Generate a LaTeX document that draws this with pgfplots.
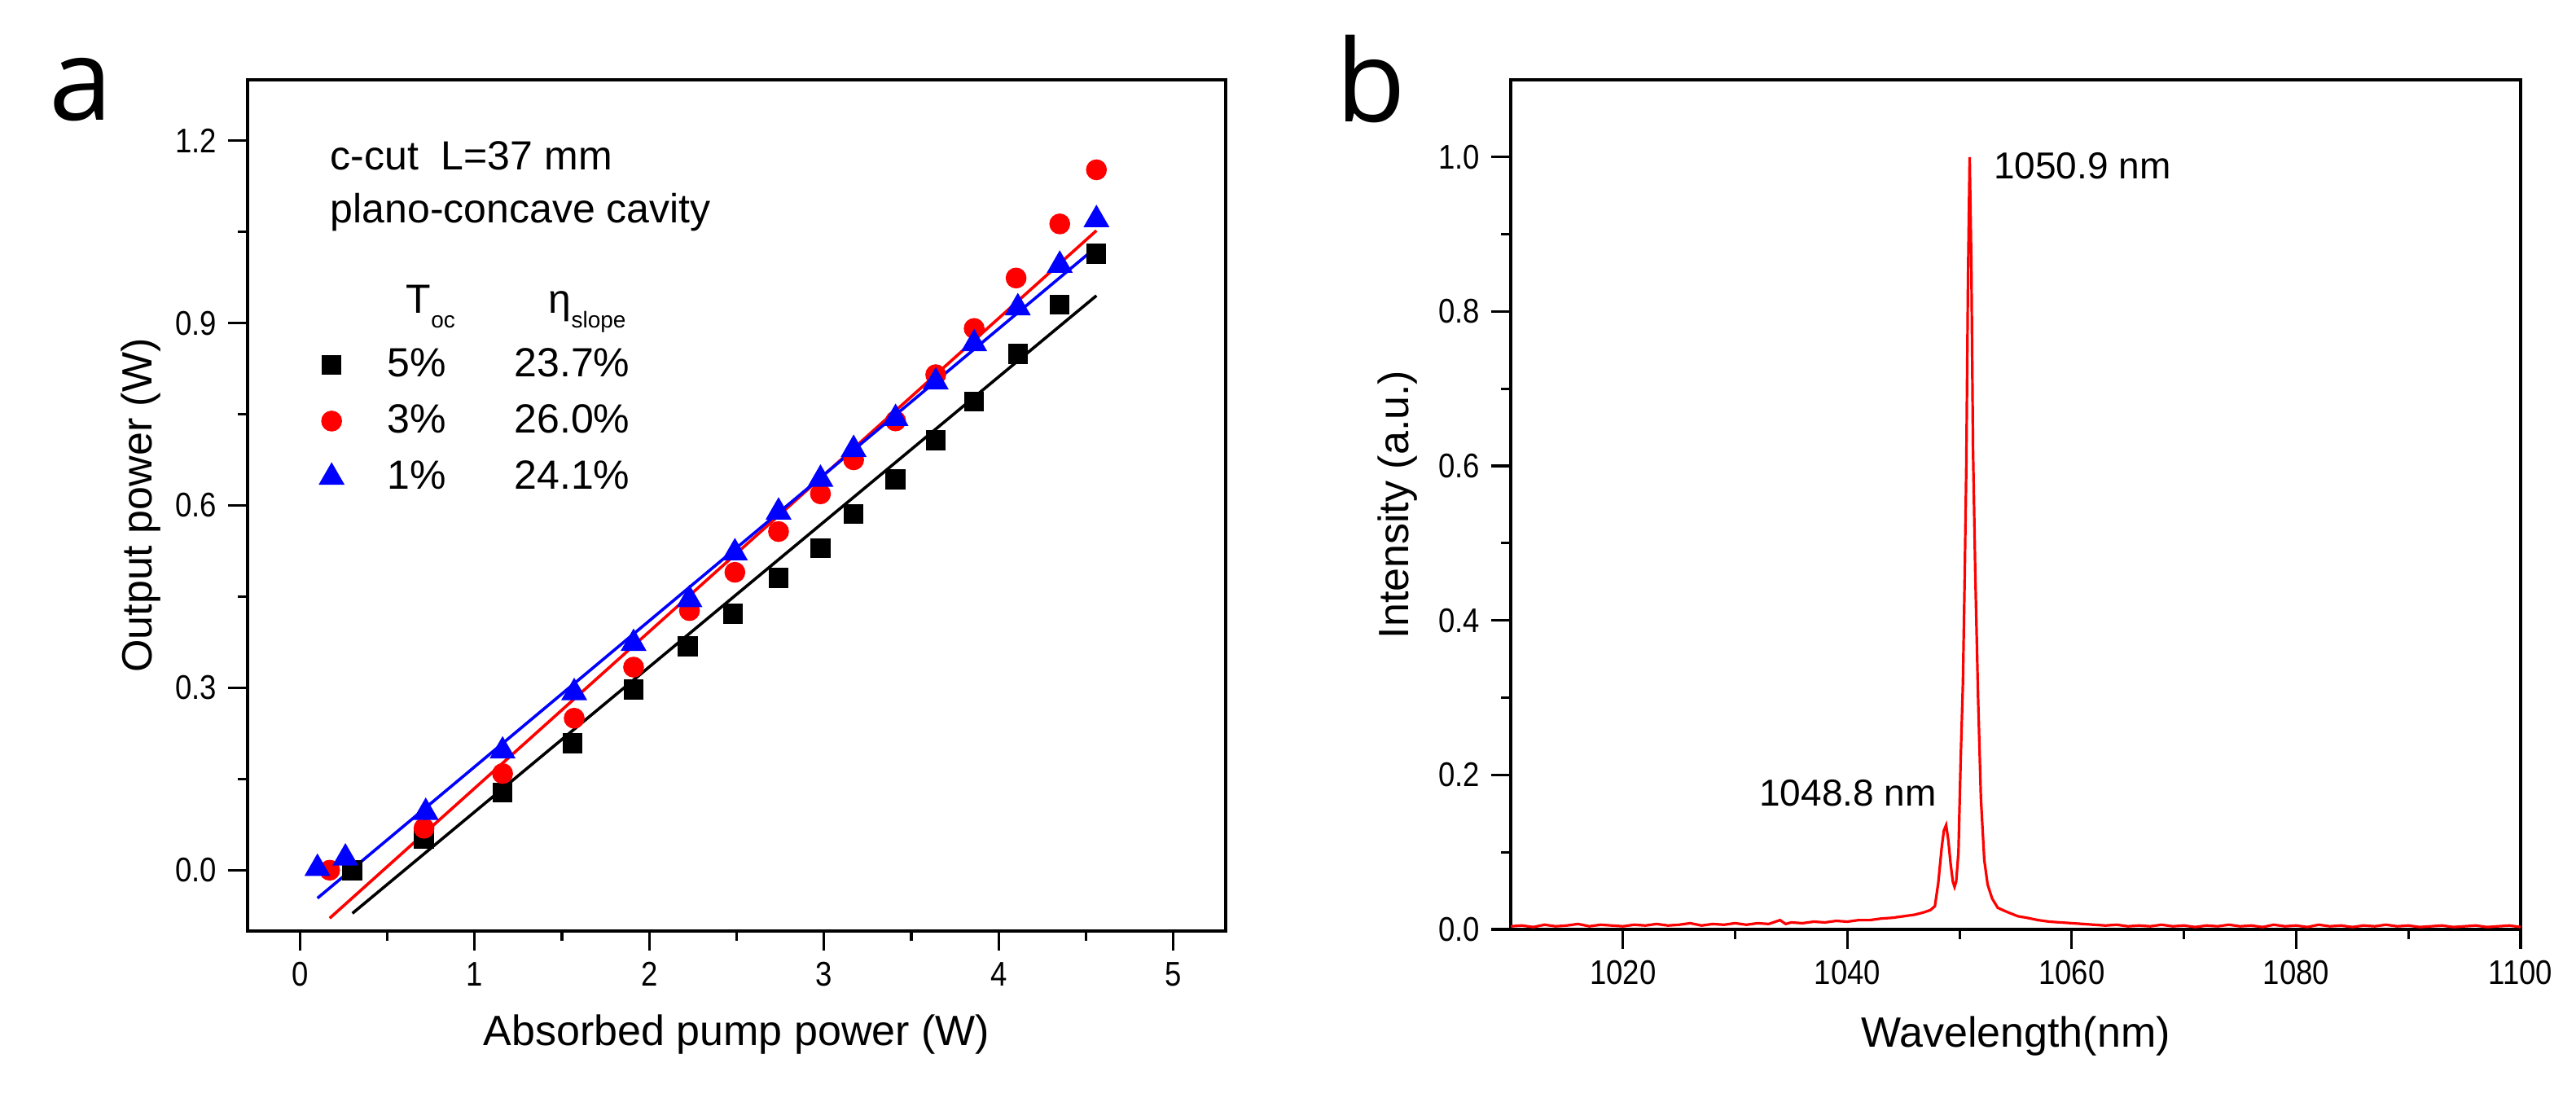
\documentclass[border=0pt]{standalone}
\usepackage{fontspec}
\setmainfont{Liberation Sans}
\newfontfamily\tickfont[FakeStretch=0.87]{Liberation Sans}
\newfontfamily\panelfont{Open Sans}
\usepackage{pgfplots}
\pgfplotsset{compat=1.18}

\pgfplotstableread{
x y
1010 0.004
1011 0.005
1012 0.003
1013 0.006
1014 0.004
1015 0.005
1016 0.007
1017 0.004
1018 0.006
1019 0.005
1020 0.004
1021 0.006
1022 0.005
1023 0.007
1024 0.005
1025 0.006
1026 0.008
1027 0.005
1028 0.007
1029 0.006
1030 0.008
1031 0.006
1032 0.008
1033 0.007
1034 0.012
1034.5 0.007
1035 0.009
1036 0.008
1037 0.010
1038 0.009
1039 0.011
1040 0.010
1041 0.012
1042 0.012
1043 0.014
1044 0.015
1045 0.017
1046 0.019
1046.8 0.022
1047.4 0.025
1047.8 0.030
1048.1 0.060
1048.4 0.105
1048.6 0.128
1048.8 0.135
1049.0 0.115
1049.2 0.085
1049.4 0.062
1049.55 0.055
1049.7 0.062
1049.9 0.100
1050.1 0.220
1050.3 0.320
1050.45 0.450
1050.6 0.600
1050.75 0.840
1050.9 1.000
1051.05 0.860
1051.2 0.620
1051.4 0.460
1051.65 0.300
1051.9 0.170
1052.2 0.090
1052.5 0.058
1052.9 0.040
1053.4 0.028
1054 0.024
1054.5 0.021
1055.2 0.017
1056 0.015
1057 0.012
1058 0.010
1059 0.009
1060 0.008
1061 0.007
1062 0.006
1063 0.005
1064 0.006
1065 0.004
1066 0.005
1067 0.004
1068 0.006
1069 0.004
1070 0.005
1071 0.003
1072 0.005
1073 0.004
1074 0.006
1075 0.004
1076 0.005
1077 0.003
1078 0.006
1079 0.004
1080 0.005
1081 0.003
1082 0.006
1083 0.004
1084 0.005
1085 0.003
1086 0.005
1087 0.004
1088 0.006
1089 0.004
1090 0.005
1091 0.003
1092 0.004
1093 0.005
1094 0.003
1095 0.004
1096 0.005
1097 0.003
1098 0.004
1099 0.005
1100 0.003
}\spectrum

\pgfplotsset{
  myaxis/.style={
    scale only axis,
    axis line style={line width=0.8pt},
    tick align=outside,
    xtick pos=left, ytick pos=left,
    major tick length=6pt, minor tick length=3pt,
    every tick/.style={black, line width=0.8pt},
    tick label style={font=\tickfont\fontsize{10.5}{12}\selectfont},
    label style={font=\fontsize{13}{15}\selectfont},
    /pgf/number format/assume math mode=true,
    clip=false,
  }
}

\begin{document}
\begin{tikzpicture}
\path[use as bounding box] (0,0) rectangle (790.75pt,337pt);

\node[anchor=base west, inner sep=0pt, font=\panelfont\fontsize{35}{40}\selectfont] at (15pt,300pt) {a};
\node[anchor=base west, inner sep=0pt, font=\panelfont\fontsize{35}{40}\selectfont] at (410pt,299.5pt) {b};

\begin{axis}[myaxis,
  at={(76pt,51.25pt)}, anchor=south west,
  width=300.25pt, height=261.25pt,
  xmin=-0.3, xmax=5.3, ymin=-0.1, ymax=1.3,
  xtick={0,1,2,3,4,5}, xticklabels={0,1,2,3,4,5}, minor x tick num=1,
  ytick={0,0.3,0.6,0.9,1.2}, yticklabels={0.0,0.3,0.6,0.9,1.2}, minor y tick num=1,
  xlabel={Absorbed pump power (W)}, ylabel={Output power (W)},
  xlabel style={at={(axis description cs:0.5,-0.1215)}, anchor=center},
  ylabel style={at={(axis description cs:-0.109,0.5)}, anchor=center},
  legend style={draw=none, fill=none, inner sep=0pt, outer sep=0pt,
    at={(axis description cs:0.0738,0.6846)}, anchor=north west,
    font=\fontsize{12.5}{14}\selectfont, row sep=7pt,
    nodes={inner sep=0pt}, column sep=13.5pt},
  legend cell align=left,
]
\addplot[black, line width=0.9pt, forget plot] coordinates {(0.30,-0.071) (4.56,0.945)};
\addplot[red, line width=0.9pt, forget plot] coordinates {(0.17,-0.079) (4.56,1.052)};
\addplot[blue, line width=0.9pt, forget plot] coordinates {(0.10,-0.046) (4.56,1.025)};

\addplot[only marks, mark=square*, mark size=2.85pt, black] coordinates {
(0.30,0.000) (0.71,0.051) (1.16,0.128) (1.56,0.209) (1.91,0.297) (2.22,0.368)
(2.48,0.422) (2.74,0.481) (2.98,0.530) (3.17,0.586) (3.41,0.643) (3.64,0.707)
(3.86,0.771) (4.11,0.849) (4.35,0.930) (4.56,1.014)};
\addlegendentry{\makebox[39pt][l]{5\%}23.7\%}
\addplot[only marks, mark=*, mark size=3pt, red] coordinates {
(0.17,0.000) (0.71,0.069) (1.16,0.159) (1.57,0.250) (1.91,0.334) (2.23,0.427)
(2.49,0.490) (2.74,0.557) (2.98,0.619) (3.17,0.675) (3.41,0.739) (3.64,0.815)
(3.86,0.891) (4.10,0.974) (4.35,1.063) (4.56,1.152)};
\addlegendentry{\makebox[39pt][l]{3\%}26.0\%}
\addplot[only marks, mark=triangle*, mark size=4.2pt, blue] coordinates {
(0.10,0.003) (0.26,0.020) (0.72,0.095) (1.16,0.196) (1.57,0.292) (1.91,0.373)
(2.23,0.445) (2.49,0.522) (2.74,0.589) (2.98,0.643) (3.17,0.692) (3.41,0.743)
(3.64,0.803) (3.86,0.866) (4.11,0.925) (4.35,0.995) (4.56,1.070)};
\addlegendentry{\makebox[39pt][l]{1\%}24.1\%}

\node[anchor=base west, inner sep=0pt, font=\fontsize{12.5}{14}\selectfont] at (axis description cs:0.0841,0.8947) {c-cut\ \ L=37 mm};
\node[anchor=base west, inner sep=0pt, font=\fontsize{12.5}{14}\selectfont] at (axis description cs:0.0841,0.8325) {plano-concave cavity};
\node[anchor=base west, inner sep=0pt, font=\fontsize{12.5}{14}\selectfont] at (axis description cs:0.1615,0.7254) {T\raisebox{-4.5pt}{\fontsize{7}{8}\selectfont oc}};
\node[anchor=base west, inner sep=0pt, font=\fontsize{12.5}{14}\selectfont] at (axis description cs:0.3072,0.7254) {η\raisebox{-4.5pt}{\fontsize{7}{8}\selectfont slope}};
\end{axis}

\begin{axis}[myaxis,
  at={(463.75pt,51.75pt)}, anchor=south west,
  width=310pt, height=260.75pt,
  xmin=1010, xmax=1100, ymin=0, ymax=1.1,
  xtick={1020,1040,1060,1080,1100}, xticklabels={1020,1040,1060,1080,1100}, minor x tick num=1,
  ytick={0,0.2,0.4,0.6,0.8,1.0}, yticklabels={0.0,0.2,0.4,0.6,0.8,1.0}, minor y tick num=1,
  xlabel={Wavelength(nm)}, ylabel={Intensity (a.u.)},
  xlabel style={at={(axis description cs:0.5,-0.1256)}, anchor=center},
  ylabel style={at={(axis description cs:-0.112,0.5)}, anchor=center},
]
\addplot[red, line width=0.8pt, no marks] table[x=x, y=y] {\spectrum};
\node[anchor=base west, inner sep=0pt, font=\fontsize{11.5}{13}\selectfont] at (axis cs:1053.0,0.972) {1050.9 nm};
\node[anchor=base east, inner sep=0pt, font=\fontsize{11.5}{13}\selectfont] at (axis cs:1048.0,0.160) {1048.8 nm};
\end{axis}
\end{tikzpicture}
\end{document}
